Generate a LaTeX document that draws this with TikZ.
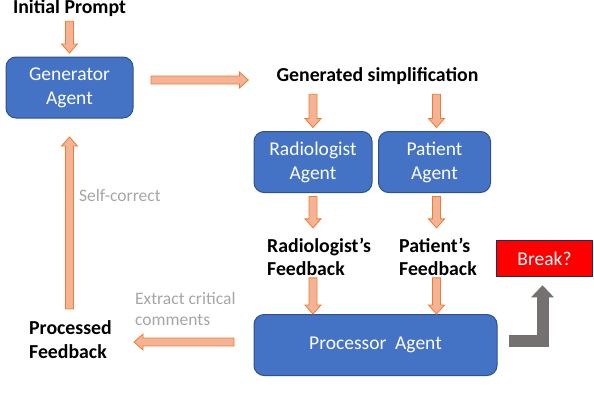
\documentclass[tikz,border=0pt]{standalone}
\usepackage{fontspec}
\setmainfont{Carlito}
\usetikzlibrary{arrows.meta, positioning, calc}
\definecolor{agentblue}{RGB}{68,114,196}
\definecolor{agentline}{RGB}{47,82,143}
\definecolor{arrfill}{RGB}{246,178,148}
\definecolor{arrline}{RGB}{237,125,49}
\definecolor{notegray}{RGB}{166,166,166}
\definecolor{brkline}{RGB}{31,45,80}
\definecolor{brkgray}{RGB}{118,113,113}

\begin{document}
\begin{tikzpicture}[x=1pt, y=-1pt,
    agent/.style={draw=agentline, fill=agentblue, line width=1pt, rounded corners=10pt,
                  minimum height=61pt, align=center, text=white,
                  font=\fontsize{19.5}{24}\selectfont},
    lbl/.style={inner sep=1pt, font=\fontsize{19.8}{23.5}\selectfont\bfseries},
    note/.style={inner sep=1pt, text=notegray, font=\fontsize{17.5}{21}\selectfont},
    brk/.style={draw=brkline, fill=red, line width=1.5pt, text=white,
                minimum width=96pt, minimum height=36pt,
                font=\fontsize{19.5}{24}\selectfont},
    barr/.style={draw=arrline, fill=arrfill, line width=0.8pt,
                 to path={let \p1=(\tikztostart), \p2=(\tikztotarget), \p3=($(\p2)!9pt!(\p1)$) in
                   ($(\p1)!4pt!90:(\p2)$) -- ($(\p3)!4pt!90:(\p2)$) -- ($(\p3)!8pt!90:(\p2)$)
                   -- (\p2) -- ($(\p3)!8pt!-90:(\p2)$) -- ($(\p3)!4pt!-90:(\p2)$)
                   -- ($(\p1)!4pt!-90:(\p2)$) -- cycle}},
    brkarr/.style={brkgray, line width=12pt, line join=miter, -{Triangle[width=22pt, length=12pt]}}
  ]
    \useasboundingbox (0,0) rectangle (594,410);

    \node[lbl, anchor=base] (prompt) at (69.5,13.5) {Initial Prompt};
    \node[agent, minimum width=127pt] (gen) at (69.5,87.5) {Generator\\Agent};
    \node[lbl, anchor=base] (simp) at (377.5,81.5) {Generated simplification};
    \node[agent, minimum width=118pt] (rad) at (313,162) {Radiologist\\Agent};
    \node[agent, minimum width=112pt] (pat) at (434.5,162) {Patient\\Agent};
    \node[lbl, align=left, anchor=base west] (radfb) at (266,275.5) {Radiologist’s\\Feedback};
    \node[lbl, align=left, anchor=base west] (patfb) at (398,275.5) {Patient’s\\Feedback};
    \node[agent, minimum width=243pt] (proc) at (375.5,345) {Processor\ \ Agent};
    \node[brk] (brk) at (544.5,258.5) {Break?};
    \node[lbl, align=left, anchor=base west] (procfb) at (28,358) {Processed\\Feedback};
    \node[note, align=left, anchor=base west] (extract) at (134,325) {Extract critical\\comments};
    \node[note, anchor=base west] (selfc) at (78,201.5) {Self-correct};

    % generation
    \draw[barr] ([yshift=-3.5pt]gen.north |- prompt.south) to ([yshift=3.5pt]gen.north);
    \draw[barr] ([xshift=17.5pt,yshift=7.5pt]gen.east) to ([xshift=-27pt,yshift=7.5pt]gen.east -| simp.west);

    % two critics
    \draw[barr] ([yshift=-8.5pt]rad.north |- simp.south) to ([yshift=3.5pt]rad.north);
    \draw[barr] ([xshift=2pt,yshift=-8.5pt]pat.north |- simp.south) to ([xshift=2pt,yshift=3.5pt]pat.north);
    \draw[barr] ([yshift=-3.5pt]rad.south) to ([yshift=8.5pt]rad.south |- radfb.north);
    \draw[barr] ([xshift=2pt,yshift=-3.5pt]pat.south) to ([xshift=2pt,yshift=8.5pt]pat.south |- patfb.north);
    \draw[barr] ([yshift=-1pt]rad.south |- radfb.south) to (rad.south |- proc.north);
    \draw[barr] ([xshift=2pt,yshift=-1pt]pat.south |- patfb.south) to ([xshift=2pt]pat.south |- proc.north);

    % back to the generator
    \draw[barr] ([xshift=-19.5pt,yshift=3pt]proc.west) to ([xshift=21pt,yshift=3pt]proc.west -| procfb.east);
    \draw[barr] ([yshift=10.5pt]gen.south |- procfb.north) to ([yshift=-18.5pt]gen.south);

    \draw[brkarr] ([xshift=11pt,yshift=4pt]proc.east) -| ([xshift=-2pt,yshift=-8pt]brk.south);
\end{tikzpicture}
\end{document}
